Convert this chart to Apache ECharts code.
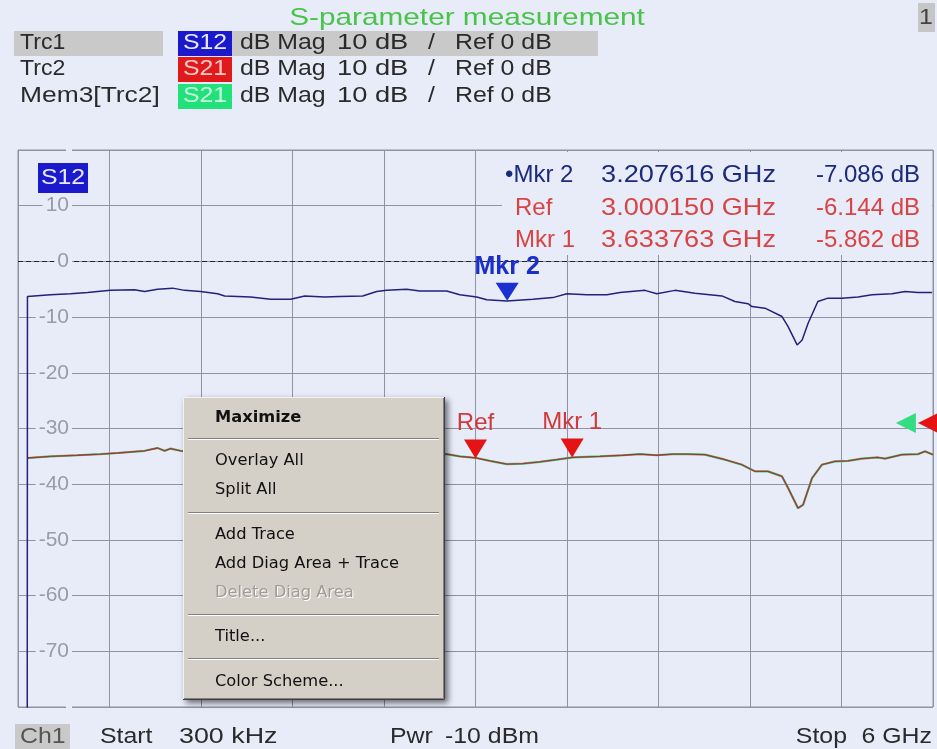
<!DOCTYPE html>
<html>
<head>
<meta charset="utf-8">
<script src="https://cdn.jsdelivr.net/npm/echarts@6/dist/echarts.min.js"></script>
<style>
html,body{margin:0;padding:0;background:#e8ebf8;}
#chart{width:937px;height:749px;}
</style>
</head>
<body>
<div id="chart"></div>
<script>
// ---- data (frequency in GHz, level in dB) ----
const s12Freq = [0.06, 0.062, 0.213, 0.344, 0.456, 0.607, 0.764, 0.830, 0.915, 1.014, 1.092, 1.197, 1.309, 1.355, 1.525, 1.657, 1.788, 1.880, 2.011, 2.109, 2.260, 2.352, 2.418, 2.549, 2.634, 2.811, 2.897, 3.008, 3.074, 3.205, 3.376, 3.507, 3.599, 3.730, 3.862, 3.947, 4.111, 4.189, 4.308, 4.439, 4.616, 4.701, 4.787, 4.813, 4.898, 5.010, 5.050, 5.109, 5.142, 5.181, 5.245, 5.311, 5.403, 5.508, 5.600, 5.731, 5.817, 5.902, 5.994];
const s12Db   = [-110, -6.3, -6.0, -5.8, -5.6, -5.2, -5.1, -5.4, -5.0, -4.8, -5.2, -5.4, -5.8, -6.2, -6.4, -6.8, -6.8, -6.2, -6.4, -6.3, -6.2, -5.4, -5.2, -5.0, -5.3, -5.3, -6.0, -6.4, -6.9, -7.1, -6.8, -6.5, -5.8, -6.0, -6.0, -5.6, -5.2, -5.8, -5.2, -5.7, -6.2, -7.2, -7.6, -8.1, -8.4, -9.9, -11.7, -15.0, -14.1, -11.1, -7.2, -6.6, -6.6, -6.4, -6.0, -5.8, -5.4, -5.6, -5.6];

const s21Freq = [0.062, 0.213, 0.390, 0.541, 0.653, 0.830, 0.915, 0.961, 1.001, 1.066, 2.811, 2.897, 3.008, 3.094, 3.205, 3.310, 3.422, 3.533, 3.638, 3.815, 3.966, 4.078, 4.189, 4.294, 4.386, 4.504, 4.636, 4.747, 4.833, 4.918, 5.010, 5.050, 5.115, 5.148, 5.207, 5.272, 5.357, 5.443, 5.534, 5.639, 5.685, 5.797, 5.902, 5.948, 6.000];
const s21Db   = [-35.3, -35.0, -34.8, -34.6, -34.4, -34.0, -33.5, -34.0, -33.6, -34.0, -34.6, -35.0, -35.3, -35.8, -36.4, -36.3, -36.0, -35.6, -35.2, -35.0, -34.8, -34.6, -34.8, -34.6, -34.6, -34.7, -35.6, -36.5, -37.7, -37.7, -38.6, -40.7, -44.3, -43.7, -38.9, -36.5, -35.9, -35.8, -35.4, -35.2, -35.4, -34.7, -34.6, -34.1, -34.7];
// memory trace Mem3[Trc2] is a stored copy of Trc2
const mem3Freq = s21Freq;
const mem3Db   = s21Db;

// markers
const markerNames = ['Mkr 2', 'Ref', 'Mkr 1'];
const markerFreq  = [3.207616, 3.000150, 3.633763];
const markerLevel = [-7.086, -35.4, -35.2];
const markerInfoFreq = ['3.207616 GHz', '3.000150 GHz', '3.633763 GHz'];
const markerInfoVal  = ['-7.086 dB', '-6.144 dB', '-5.862 dB'];

// axes
const freqMin = 0, freqMax = 6, freqStep = 0.6;
const dbMin = -80, dbMax = 20, dbStep = 10;
const dbTickLabels = ['10', '0', '-10', '-20', '-30', '-40', '-50', '-60', '-70'];

// header / footer texts
const traceNames = ['Trc1', 'Trc2', 'Mem3[Trc2]'];
const traceParams = ['S12', 'S21', 'S21'];
const traceFormat = ['dB Mag', '10 dB', '/', 'Ref 0 dB'];
const footerTexts = ['Start', '300 kHz', 'Pwr', '-10 dBm', 'Stop', '6 GHz'];
const menuItems = ['Maximize', 'Overlay All', 'Split All', 'Add Trace', 'Add Diag Area + Trace', 'Delete Diag Area', 'Title...', 'Color Scheme...'];

// ---- styling ----
const BG = '#e8ebf8';
const FONT = 'Liberation Sans, Arial, sans-serif';
const MENU_FONT = 'DejaVu Sans, Verdana, sans-serif';
const GRID_COLOR = '#8f93a3';
const SX = 1.13;

function pairs(xs, ys) { return xs.map((x, i) => [x, ys[i]]); }
function txt(x, y, text, size, fill, align, z, extra) {
  return Object.assign({type: 'text', x: x, y: y, scaleX: SX, z: z || 11,
    style: {text: text, font: size + 'px ' + FONT, fill: fill, align: align || 'left', verticalAlign: 'middle'}}, extra || {});
}

const chart = echarts.init(document.getElementById('chart'), null, {renderer: 'canvas'});

const graphics = [];
// title
graphics.push(txt(467, 18, 'S-parameter measurement', 24, '#48c448', 'center', 11, {scaleX: 1.24}));
// top-right channel number box
graphics.push({type: 'rect', shape: {x: 918, y: 3, width: 17, height: 29}, style: {fill: '#c6c6c6'}, z: 10});
graphics.push(txt(926, 18, '1', 22, '#444', 'center'));
// trace list
const rowY = [43, 69, 96];
const boxFill = ['#1a1acc', '#e01a1a', '#22e07a'];
const boxText = ['#e8e8ff', '#ffc8c8', '#c8ffe0'];
graphics.push({type: 'rect', shape: {x: 14, y: 31, width: 149, height: 25}, style: {fill: '#c9c9c9'}, z: 10});
graphics.push({type: 'rect', shape: {x: 232, y: 31, width: 366, height: 25}, style: {fill: '#c9c9c9'}, z: 10});
for (let i = 0; i < 3; i++) {
  graphics.push(txt(20, rowY[i], traceNames[i], 22, '#2a2a2a', 'left', 11, {scaleX: i === 2 ? 1.2 : 1.05}));
  graphics.push({type: 'rect', shape: {x: 178, y: rowY[i] - 12, width: 54, height: 25}, style: {fill: boxFill[i]}, z: 11});
  graphics.push(txt(205, rowY[i], traceParams[i], 22, boxText[i], 'center', 12));
  graphics.push(txt(240, rowY[i], traceFormat[0], 22, '#2a2a2a'));
  graphics.push(txt(337, rowY[i], traceFormat[1], 22, '#2a2a2a', 'left', 11, {scaleX: 1.24}));
  graphics.push(txt(428, rowY[i], traceFormat[2], 22, '#2a2a2a'));
  graphics.push(txt(455, rowY[i], traceFormat[3], 22, '#2a2a2a'));
}
// S12 tag inside diagram
graphics.push({type: 'rect', shape: {x: 38, y: 163, width: 50, height: 30}, style: {fill: '#1a1acc'}, z: 10});
graphics.push(txt(63, 178, 'S12', 22, '#e8e8ff', 'center'));
// marker info panel
graphics.push({type: 'rect', shape: {x: 502, y: 152, width: 430, height: 103}, style: {fill: BG}, z: 1});
const infoY = [175, 208, 240];
const infoColor = ['#1c2a7c', '#d84444', '#d84444'];
for (let i = 0; i < 3; i++) {
  const name = i === 0 ? '\u2022' + markerNames[i] : markerNames[i];
  graphics.push(txt(i === 0 ? 505 : 515, infoY[i], name, 24, infoColor[i], 'left', 11, {scaleX: 1.0}));
  graphics.push(txt(776, infoY[i], markerInfoFreq[i], 24, infoColor[i], 'right'));
  graphics.push(txt(920, infoY[i], markerInfoVal[i], 24, infoColor[i], 'right', 11, {scaleX: 1.0}));
}
// footer
graphics.push({type: 'rect', shape: {x: 15, y: 724, width: 55, height: 25}, style: {fill: '#c9c9c9'}, z: 10});
graphics.push(txt(20, 737, 'Ch1', 22, '#555'));
graphics.push(txt(100, 737, footerTexts[0], 22, '#2a2a2a'));
graphics.push(txt(179, 737, footerTexts[1], 22, '#2a2a2a', 'left', 11, {scaleX: 1.22}));
graphics.push(txt(390, 737, footerTexts[2], 22, '#2a2a2a'));
graphics.push(txt(445, 737, footerTexts[3], 22, '#2a2a2a'));
graphics.push(txt(847, 737, footerTexts[4], 22, '#2a2a2a', 'right'));
graphics.push(txt(932, 737, footerTexts[5], 22, '#2a2a2a', 'right'));

// context menu
const MX = 183, MY = 397, MW = 262, MH = 303, MZ = 100;
const menuChildren = [];
menuChildren.push({type: 'rect', z: MZ, shape: {x: 0, y: 0, width: MW, height: MH}, style: {fill: '#d4d0c8', shadowBlur: 6, shadowColor: 'rgba(0,0,0,0.55)', shadowOffsetX: 3, shadowOffsetY: 3}});
menuChildren.push({type: 'polyline', z: MZ + 1, shape: {points: [[0.5, MH - 1], [0.5, 0.5], [MW - 1, 0.5]]}, style: {stroke: '#f4f2ee', lineWidth: 1, fill: null}});
menuChildren.push({type: 'polyline', z: MZ + 1, shape: {points: [[MW - 0.5, 0], [MW - 0.5, MH - 0.5], [0, MH - 0.5]]}, style: {stroke: '#404040', lineWidth: 1, fill: null}});
menuChildren.push({type: 'polyline', z: MZ + 1, shape: {points: [[MW - 1.5, 1], [MW - 1.5, MH - 1.5], [1, MH - 1.5]]}, style: {stroke: '#808080', lineWidth: 1, fill: null}});
const itemY = [21, 64, 93, 138, 167, 196, 240, 285];
const sepY = [41, 115, 217, 261];
sepY.forEach(y => {
  menuChildren.push({type: 'line', z: MZ + 1, shape: {x1: 5, y1: y + 0.5, x2: MW - 6, y2: y + 0.5}, style: {stroke: '#808080', lineWidth: 1}});
  menuChildren.push({type: 'line', z: MZ + 1, shape: {x1: 5, y1: y + 1.5, x2: MW - 6, y2: y + 1.5}, style: {stroke: '#ffffff', lineWidth: 1}});
});
menuItems.forEach((t, i) => {
  const disabled = t === 'Delete Diag Area';
  if (disabled) {
    menuChildren.push({type: 'text', z: MZ + 1, x: 33, y: itemY[i] + 1, style: {text: t, font: '16.3px ' + MENU_FONT, fill: '#ffffff', verticalAlign: 'middle'}});
  }
  menuChildren.push({type: 'text', z: MZ + 2, x: 32, y: itemY[i], style: {text: t, font: (i === 0 ? 'bold ' : '') + '16.3px ' + MENU_FONT, fill: disabled ? '#a09c94' : '#111111', verticalAlign: 'middle'}});
});
graphics.push({type: 'group', x: MX, y: MY, z: MZ, children: menuChildren});

const triDown = 'path://M0,0 L20,0 L10,16 Z';
const triLeft = 'path://M16,0 L16,20 L0,10 Z';

const option = {
  backgroundColor: BG,
  animation: false,
  grid: {left: 18, top: 150, width: 915, height: 557, show: true, borderColor: GRID_COLOR, borderWidth: 1, backgroundColor: 'transparent'},
  xAxis: {
    type: 'value', min: freqMin, max: freqMax, interval: freqStep,
    axisLine: {show: false}, axisTick: {show: false}, axisLabel: {show: false},
    splitLine: {show: true, lineStyle: {color: GRID_COLOR, width: 1}}
  },
  yAxis: [{
    type: 'value', min: dbMin, max: dbMax, interval: dbStep,
    axisLine: {show: false}, axisTick: {show: false}, axisLabel: {show: false},
    splitLine: {show: true, lineStyle: {color: GRID_COLOR, width: 1}}
  }, {
    type: 'value', min: dbMin, max: dbMax, interval: dbStep, position: 'left', z: 5,
    axisLine: {show: false}, axisTick: {show: false}, splitLine: {show: false},
    axisLabel: {
      inside: true, align: 'right', margin: 54,
      color: '#9a9aa8', fontSize: 21, fontFamily: FONT,
      backgroundColor: BG, padding: [1, 3, 1, 3],
      formatter: v => dbTickLabels.indexOf(String(v)) >= 0 ? String(v) : ''
    }
  }],
  graphic: {elements: graphics},
  series: [
    {
      name: 'Mem3[Trc2]', type: 'line', data: pairs(mem3Freq, mem3Db), showSymbol: false, z: 2,
      lineStyle: {color: '#3ccc78', width: 2.2}
    },
    {
      name: 'Trc2', type: 'line', data: pairs(s21Freq, s21Db), showSymbol: false, z: 3,
      lineStyle: {color: '#b03034', width: 1.3},
      markPoint: {
        symbol: triDown, symbolSize: [23, 19], symbolOffset: [0, -9.5], itemStyle: {color: '#e41414'},
        label: {show: true, position: 'top', distance: 4, color: '#d03a3a', fontSize: 24, fontFamily: FONT},
        data: [1, 2].map(i => ({coord: [markerFreq[i], markerLevel[i]], label: {formatter: markerNames[i]}})).concat([
          {coord: [5.967, -29], symbol: triLeft, symbolSize: [20, 20], symbolOffset: [0, 0], label: {show: false}, itemStyle: {color: '#e41414'}},
          {coord: [5.822, -29], symbol: triLeft, symbolSize: [20, 20], symbolOffset: [0, 0], label: {show: false}, itemStyle: {color: '#33dd80'}}
        ])
      }
    },
    {
      name: 'Trc1', type: 'line', data: pairs(s12Freq, s12Db), showSymbol: false, z: 4,
      lineStyle: {color: '#22227a', width: 1.5},
      markLine: {
        silent: true, symbol: 'none', label: {show: false},
        lineStyle: {color: '#202020', width: 1, type: [5, 3]},
        data: [{yAxis: 0}]
      },
      markPoint: {
        symbol: triDown, symbolSize: [23, 18], symbolOffset: [0, -9], itemStyle: {color: '#1a30d0'},
        label: {show: true, position: 'top', distance: 3, color: '#1a30c8', fontSize: 25, fontWeight: 'bold', fontFamily: FONT},
        data: [
          {coord: [markerFreq[0], markerLevel[0]], label: {formatter: markerNames[0]}},
          {coord: [6.005, 0], symbol: triLeft, symbolSize: [18, 20], symbolOffset: [0, 0], label: {show: false}}
        ]
      }
    }
  ]
};
chart.setOption(option);
</script>
</body>
</html>
